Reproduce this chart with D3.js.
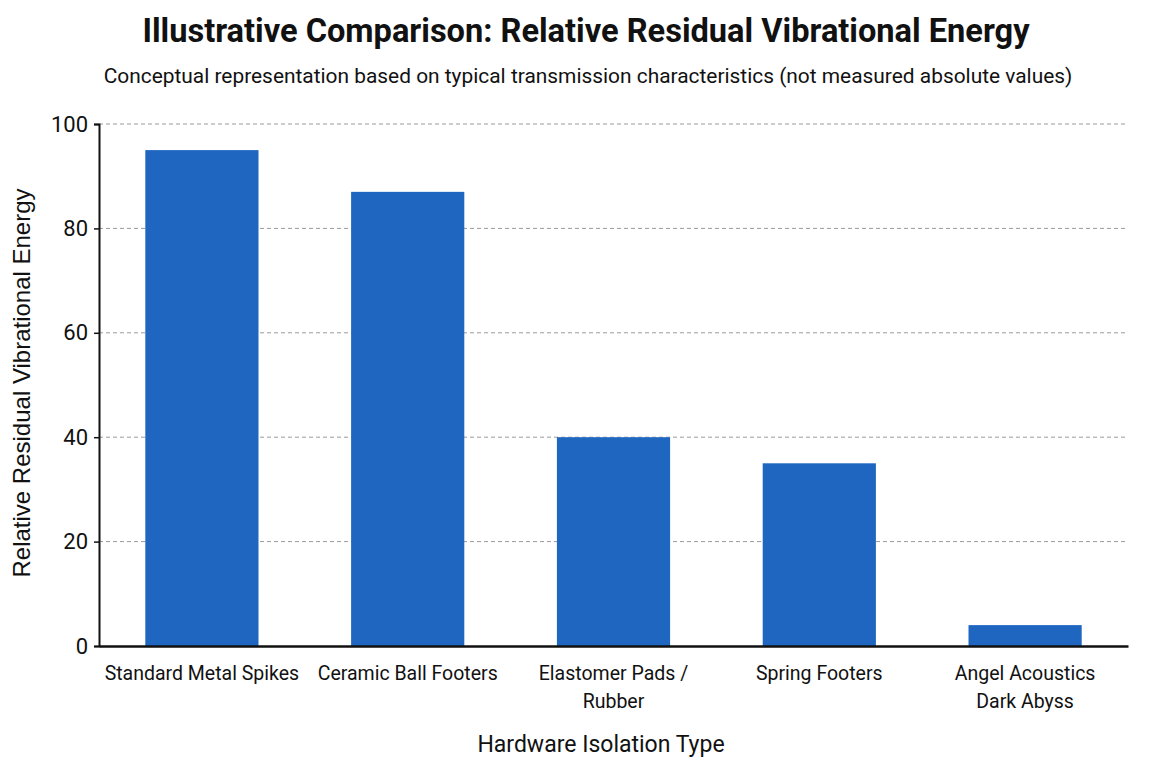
<!DOCTYPE html>
<html lang="en">
<head>
    <meta charset="UTF-8">
    <title>Relative Residual Vibrational Energy</title>
    <script src="https://d3js.org/d3.v7.min.js"></script>
    <style>
        body {
            margin: 0;
            background: #ffffff;
        }
        svg text {
            fill: #111;
        }
    </style>
</head>
<body>
    <div id="chart"></div>

    <script>
        // Dati
        const categories = [
            "Standard Metal Spikes",
            "Ceramic Ball Footers",
            "Elastomer Pads / Rubber",
            "Spring Footers",
            "Angel Acoustics Dark Abyss"
        ];
        const tickLines = [
            ["Standard Metal Spikes"],
            ["Ceramic Ball Footers"],
            ["Elastomer Pads /", "Rubber"],
            ["Spring Footers"],
            ["Angel Acoustics", "Dark Abyss"]
        ];
        const values = [95, 87, 40, 35, 4];
        const yTicks = [0, 20, 40, 60, 80, 100];

        const width = 1168;
        const height = 784;
        const margin = { top: 124, right: 40, bottom: 138, left: 99 };
        const font = "Roboto, 'Liberation Sans', sans-serif";

        const svg = d3.select("#chart")
            .append("svg")
            .attr("width", width)
            .attr("height", height);

        const x = d3.scaleBand()
            .domain(categories)
            .range([margin.left, width - margin.right])
            .paddingInner(0.45)
            .paddingOuter(0.225);

        const y = d3.scaleLinear()
            .domain([0, 100])
            .range([height - margin.bottom, margin.top]);

        // Griglia tratteggiata
        svg.append("g")
            .selectAll("line")
            .data(yTicks.filter(d => d > 0))
            .enter()
            .append("line")
            .attr("x1", margin.left)
            .attr("x2", width - margin.right)
            .attr("y1", d => y(d))
            .attr("y2", d => y(d))
            .attr("stroke", "#9a9a9a")
            .attr("stroke-width", 1)
            .attr("stroke-dasharray", "4,3");

        // Barre
        svg.append("g")
            .selectAll("rect")
            .data(values)
            .enter()
            .append("rect")
            .attr("x", (d, i) => x(categories[i]))
            .attr("y", d => y(d))
            .attr("width", x.bandwidth())
            .attr("height", d => y(0) - y(d))
            .attr("fill", "#1f66c1");

        // Asse Y
        const yAxis = svg.append("g")
            .attr("transform", `translate(${margin.left},0)`)
            .call(d3.axisLeft(y).tickValues(yTicks).tickSize(5).tickPadding(6));
        yAxis.select(".domain").attr("stroke", "#111").attr("stroke-width", 2);
        yAxis.selectAll(".tick line").attr("stroke", "#111").attr("stroke-width", 1.5);
        yAxis.selectAll(".tick text")
            .attr("font-family", font)
            .attr("font-size", "22px")
            .attr("fill", "#111");

        // Asse X
        const xAxis = svg.append("g")
            .attr("transform", `translate(0,${y(0)})`)
            .call(d3.axisBottom(x).tickSize(0).tickFormat(""));
        xAxis.select(".domain").attr("stroke", "#111").attr("stroke-width", 2.5);

        xAxis.selectAll(".tick")
            .data(tickLines)
            .select("text")
            .attr("font-family", font)
            .attr("font-size", "19.5px")
            .attr("fill", "#111")
            .attr("y", 0)
            .attr("dy", null)
            .each(function (lines) {
                const t = d3.select(this);
                lines.forEach((ln, i) => {
                    t.append("tspan")
                        .attr("x", 0)
                        .attr("y", 34 + i * 28)
                        .text(ln);
                });
            });

        // Titoli
        svg.append("text")
            .attr("x", 586)
            .attr("y", 42)
            .attr("text-anchor", "middle")
            .attr("font-family", font)
            .attr("font-weight", "bold")
            .attr("font-size", "32.6px")
            .text("Illustrative Comparison: Relative Residual Vibrational Energy");

        svg.append("text")
            .attr("x", 588)
            .attr("y", 83)
            .attr("text-anchor", "middle")
            .attr("font-family", font)
            .attr("font-size", "20.9px")
            .text("Conceptual representation based on typical transmission characteristics (not measured absolute values)");

        svg.append("text")
            .attr("x", 601)
            .attr("y", 752)
            .attr("text-anchor", "middle")
            .attr("font-family", font)
            .attr("font-size", "23px")
            .text("Hardware Isolation Type");

        svg.append("text")
            .attr("transform", `translate(30,383) rotate(-90)`)
            .attr("text-anchor", "middle")
            .attr("font-family", "'Liberation Sans', Arial, sans-serif")
            .attr("font-size", "24px")
            .text("Relative Residual Vibrational Energy");
    </script>
</body>
</html>
